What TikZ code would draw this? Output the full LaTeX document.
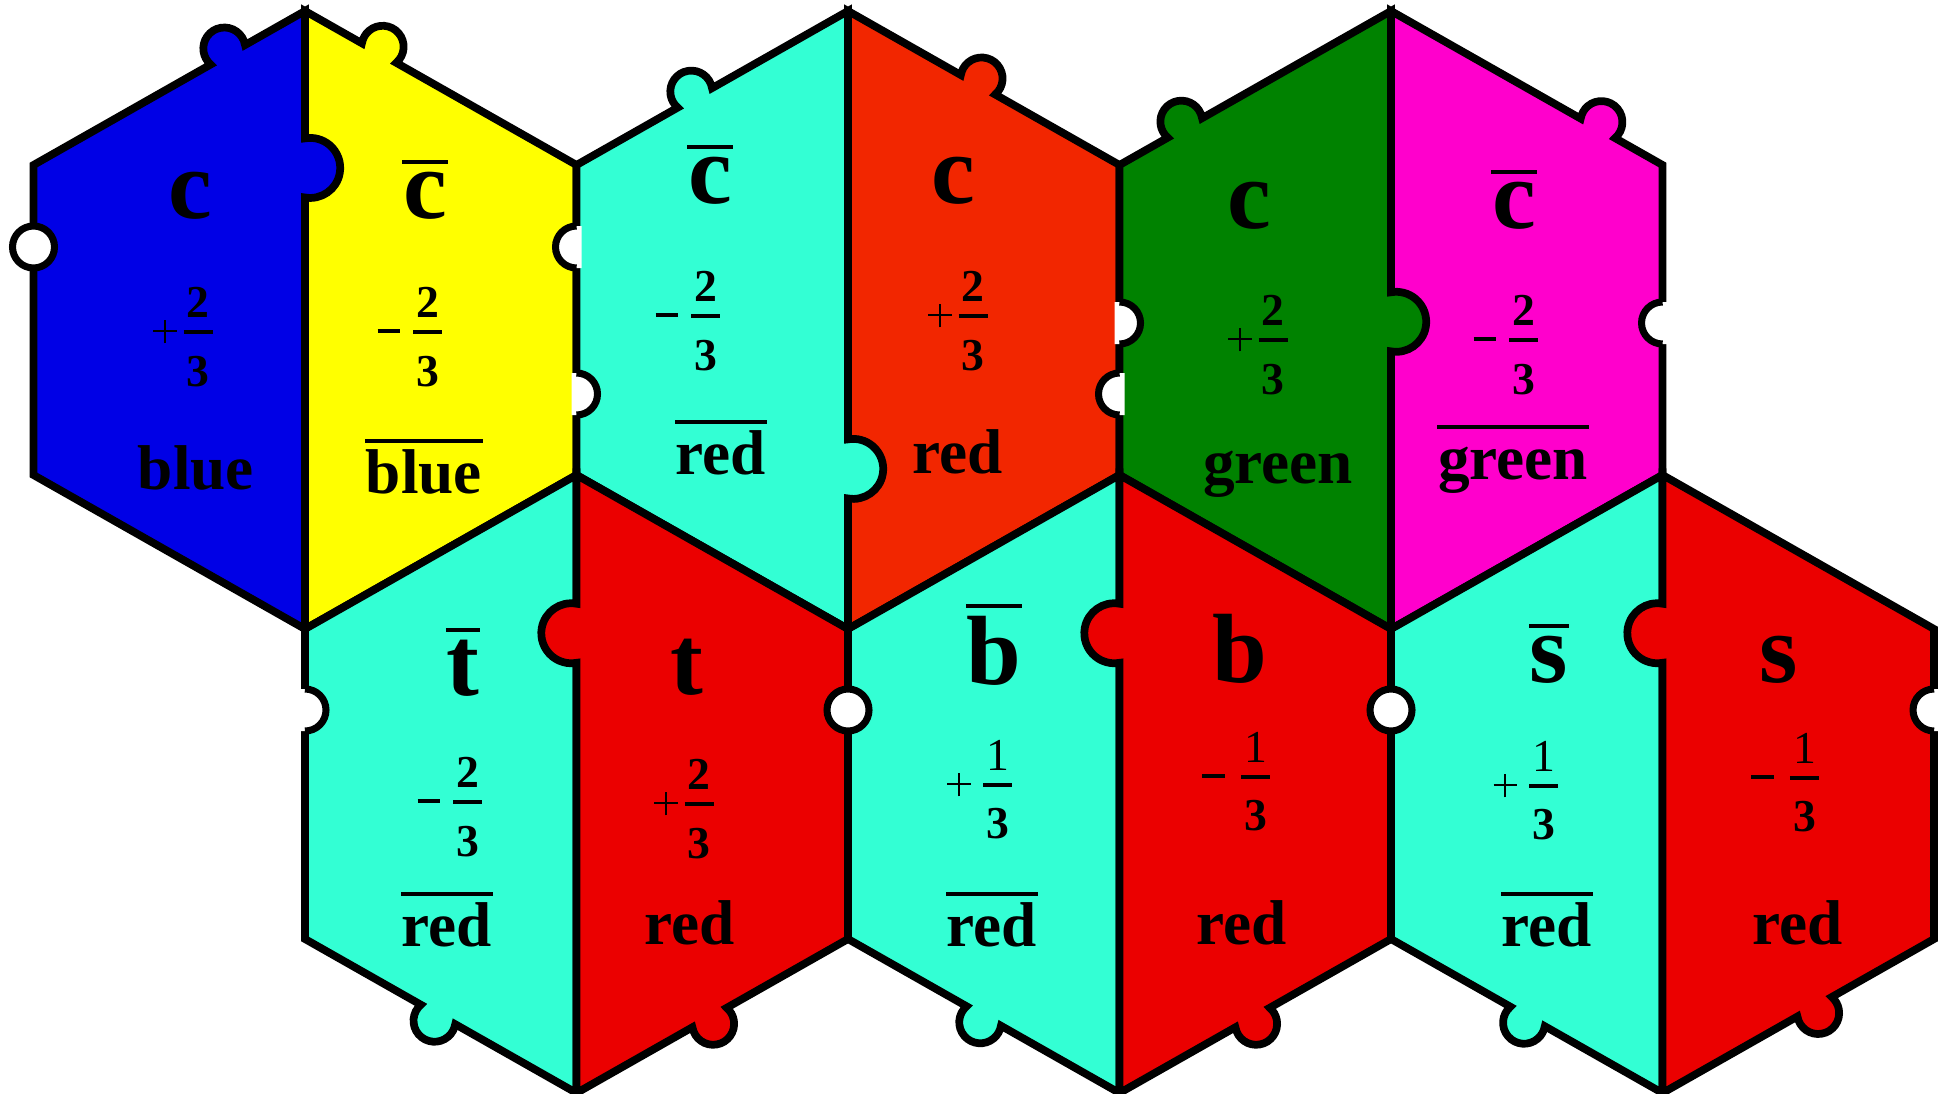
\documentclass[tikz,border=0pt]{standalone}
\usepackage{fontspec}
\setmainfont{Liberation Serif}
\usepackage{amsmath}
\usepackage{tikz}
\usetikzlibrary{calc}

\definecolor{qblue}{RGB}{0,0,230}
\definecolor{qyellow}{RGB}{255,255,0}
\definecolor{qaqua}{RGB}{51,255,212}
\definecolor{qorange}{RGB}{242,38,0}
\definecolor{qgreen}{RGB}{0,130,0}
\definecolor{qmagenta}{RGB}{255,0,204}
\definecolor{qred}{RGB}{235,0,0}

% corners of one hexagon: name, centre x, centre y
\newcommand{\hexat}[3]{%
  \coordinate (#1-t)  at (#2, #3+3.09);
  \coordinate (#1-b)  at (#2, #3-3.09);
  \coordinate (#1-ul) at (#2-2.715, #3+1.55);
  \coordinate (#1-ll) at (#2-2.715, #3-1.55);
  \coordinate (#1-ur) at (#2+2.715, #3+1.55);
  \coordinate (#1-lr) at (#2+2.715, #3-1.55);
}
% white notches on a vertical edge
\newcommand{\notchleft}[1]{%
  \fill[white] ($(#1)+(0.05,0.21)$) -- ++(-0.05,0) arc[start angle=90, end angle=270, radius=0.21] -- ++(0.05,0) -- cycle;
  \draw[notch] ($(#1)+(0,0.21)$) arc[start angle=90, end angle=270, radius=0.21];
}
\newcommand{\notchright}[1]{%
  \fill[white] ($(#1)+(-0.05,0.21)$) -- ++(0.05,0) arc[start angle=90, end angle=-90, radius=0.21] -- ++(-0.05,0) -- cycle;
  \draw[notch] ($(#1)+(0,0.21)$) arc[start angle=90, end angle=-90, radius=0.21];
}
% charge: sign, numerator, denominator
\newcommand{\qfrac}[3]{#1$\genfrac{}{}{1.1pt}{1}{\mbox{\kern0.9pt#2\kern0.9pt}\rule[-2.5pt]{0pt}{2.5pt}}{\rule{0pt}{13.6pt}\mbox{#3}}$}
\newcommand{\qplus}{\makebox[0.55em][l]{\rule[0.245em]{0.52em}{0.6pt}\kern-0.283em\rule[-0.01em]{0.6pt}{0.52em}}\kern0.3pt}
\newcommand{\qminus}{\rule[0.22em]{0.5em}{1.15pt}\kern2.4pt}

\begin{document}
\begin{tikzpicture}[
    piece/.style={draw=black, line width=2.2pt},
    notch/.style={draw=black, line width=2pt},
    bar/.style={line width=1pt},
    quark/.style={font=\fontsize{28}{30}\selectfont\bfseries, inner sep=0pt, anchor=base},
    charge/.style={font=\fontsize{13}{15}\selectfont\bfseries, inner sep=0pt},
    colour/.style={font=\fontsize{18}{20}\selectfont\bfseries, inner sep=0pt, anchor=base},
    knob/.style={to path={let \p1=($(\tikztotarget)-(\tikztostart)$), \n1={atan2(\y1,\x1)} in
        -- ($(\tikztostart)!#1!(\tikztotarget)!0.197cm!(\tikztostart)$)
        arc[start angle=\n1+160, end angle=\n1+380, radius=0.21cm]
        -- (\tikztotarget)}},
    tongue/.style={to path={let \p1=($(\tikztotarget)-(\tikztostart)$), \n1={atan2(\y1,\x1)} in
        -- ($(\tikztostart)!#1!(\tikztotarget)!0.295cm!(\tikztostart)$)
        arc[start angle=\n1+170, end angle=\n1+370, radius=0.30cm]
        -- (\tikztotarget)}}
]
    \useasboundingbox (0,0) rectangle (19.44,10.93);

    % Hexagon centres
    \hexat{A}{3.05}{7.73}
    \hexat{B}{8.48}{7.73}
    \hexat{C}{13.91}{7.73}
    \hexat{D}{5.765}{3.09}
    \hexat{E}{11.195}{3.09}
    \hexat{F}{16.625}{3.09}

    % Top row: charm pieces
    \draw[piece, fill=qyellow]  (A-ur) to[knob=.727] (A-t) -- (A-b) -- (A-lr) -- cycle;
    \draw[piece, fill=qblue]    (A-b) to[tongue=.746] (A-t) to[knob=.284] (A-ul) -- (A-ll) -- cycle;
    \draw[piece, fill=qorange]  (B-ur) to[knob=.521] (B-t) -- (B-b) -- (B-lr) -- cycle;
    \draw[piece, fill=qaqua]    (B-b) to[tongue=.259] (B-t) to[knob=.564] (B-ul) -- (B-ll) -- cycle;
    \draw[piece, fill=qmagenta] (C-ur) to[knob=.238] (C-t) -- (C-b) -- (C-lr) -- cycle;
    \draw[piece, fill=qgreen]   (C-b) to[tongue=.497] (C-t) to[knob=.759] (C-ul) -- (C-ll) -- cycle;

    % Bottom row: t, b, s pieces
    \draw[piece, fill=qaqua] (D-ll) to[knob=.49] (D-b) -- (D-t) -- (D-ul) -- cycle;
    \draw[piece, fill=qred]  (D-t) to[tongue=.256] (D-b) to[knob=.49] (D-lr) -- (D-ur) -- cycle;
    \draw[piece, fill=qaqua] (E-ll) to[knob=.50] (E-b) -- (E-t) -- (E-ul) -- cycle;
    \draw[piece, fill=qred]  (E-t) to[tongue=.256] (E-b) to[knob=.49] (E-lr) -- (E-ur) -- cycle;
    \draw[piece, fill=qaqua] (F-ll) to[knob=.503] (F-b) -- (F-t) -- (F-ul) -- cycle;
    \draw[piece, fill=qred]  (F-t) to[tongue=.256] (F-b) to[knob=.56] (F-lr) -- (F-ur) -- cycle;

    % Notches and holes
    \draw[notch, fill=white] (0.335,8.46) circle (0.21);
    \notchleft{5.765,8.46}
    \notchright{5.765,6.99}
    \notchleft{11.195,6.99}
    \notchright{11.195,7.70}
    \notchleft{16.625,7.70}
    \notchright{3.05,3.83}
    \draw[notch, fill=white] (8.48,3.83) circle (0.21);
    \draw[notch, fill=white] (13.91,3.83) circle (0.21);
    \notchleft{19.34,3.83}

    % Quark letters
    \node[quark] (q-A-l) at (1.90,8.75)  {c};
    \node[quark] (q-A-r) at (4.25,8.75)  {c};
    \node[quark] (q-B-l) at (7.10,8.90)  {c};
    \node[quark] (q-B-r) at (9.53,8.90)  {c};
    \node[quark] (q-C-l) at (12.49,8.65) {c};
    \node[quark] (q-C-r) at (15.14,8.65) {c};
    \node[quark] (q-D-l) at (4.63,3.98)  {t};
    \node[quark] (q-D-r) at (6.87,3.99)  {t};
    \node[quark] (q-E-l) at (9.94,4.09)  {b};
    \node[quark] (q-E-r) at (12.40,4.11) {b};
    \node[quark] (q-F-l) at (15.49,4.11) {s};
    \node[quark] (q-F-r) at (17.79,4.11) {s};

    % Charges
    \node[charge] (e-A-l) at (1.85,7.56)  {\qfrac{\qplus}{2}{3}};
    \node[charge] (e-A-r) at (4.12,7.56)  {\qfrac{\qminus}{2}{3}};
    \node[charge] (e-B-l) at (6.90,7.72)  {\qfrac{\qminus}{2}{3}};
    \node[charge] (e-B-r) at (9.60,7.72)  {\qfrac{\qplus}{2}{3}};
    \node[charge] (e-C-l) at (12.60,7.48) {\qfrac{\qplus}{2}{3}};
    \node[charge] (e-C-r) at (15.08,7.48) {\qfrac{\qminus}{2}{3}};
    \node[charge] (e-D-l) at (4.52,2.86)  {\qfrac{\qminus}{2}{3}};
    \node[charge] (e-D-r) at (6.86,2.84)  {\qfrac{\qplus}{2}{3}};
    \node[charge] (e-E-l) at (9.82,3.03)  {\qfrac{\qplus\kern1.5pt}{{\mdseries 1}}{3}};
    \node[charge] (e-E-r) at (12.38,3.11) {\qfrac{\qminus\kern1pt}{{\mdseries 1}}{3}};
    \node[charge] (e-F-l) at (15.28,3.02) {\qfrac{\qplus\kern1.5pt}{{\mdseries 1}}{3}};
    \node[charge] (e-F-r) at (17.87,3.10) {\qfrac{\qminus\kern1pt}{{\mdseries 1}}{3}};

    % Colour charges
    \node[colour] (col-A-l) at (1.96,6.04)  {blue};
    \node[colour] (col-A-r) at (4.24,6.00)  {blue};
    \node[colour] (col-B-l) at (7.21,6.19)  {red};
    \node[colour] (col-B-r) at (9.58,6.20)  {red};
    \node[colour] (col-C-l) at (12.78,6.10) {green};
    \node[colour] (col-C-r) at (15.13,6.14) {green};
    \node[colour] (col-D-l) at (4.47,1.47)  {red};
    \node[colour] (col-D-r) at (6.90,1.49)  {red};
    \node[colour] (col-E-l) at (9.92,1.47)  {red};
    \node[colour] (col-E-r) at (12.42,1.49) {red};
    \node[colour] (col-F-l) at (15.47,1.47) {red};
    \node[colour] (col-F-r) at (17.98,1.49) {red};

    % Anti bars
    \foreach \n in {q-A-r, q-B-l, q-C-r, q-D-l, q-E-l, q-F-l}
        \draw[bar] ([yshift=0.09cm]\n.north west) -- ([yshift=0.09cm]\n.north east);
    \foreach \n in {col-A-r, col-B-l, col-C-r, col-D-l, col-E-l, col-F-l}
        \draw[bar] ([yshift=0.52cm]\n.base west) -- ([yshift=0.52cm]\n.base east);
\end{tikzpicture}
\end{document}
